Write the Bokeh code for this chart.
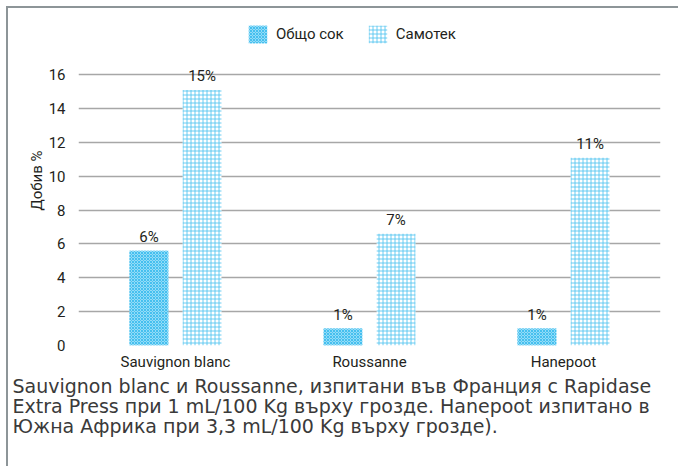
from bokeh.plotting import figure
from bokeh.models import (ColumnDataSource, FactorRange, Range1d, FixedTicker,
                          Legend, LegendItem, Title)
from bokeh.transform import dodge
from bokeh.core.properties import value
from bokeh.embed import file_html
from bokeh.resources import INLINE

categories = ["Sauvignon blanc", "Roussanne", "Hanepoot"]
total_juice = [5.6, 1.0, 1.0]        # Общо сок
free_run = [15.1, 6.6, 11.1]         # Самотек
total_labels = ["6%", "1%", "1%"]
free_labels = ["15%", "7%", "11%"]
y_ticks = [0, 2, 4, 6, 8, 10, 12, 14, 16]
series_names = ["Общо сок", "Самотек"]
y_title = "Добив %"
caption_lines = [
    "Sauvignon blanc и Roussanne, изпитани във Франция с Rapidase",
    "Extra Press при 1 mL/100 Kg върху грозде. Hanepoot изпитано в",
    "Южна Африка при 3,3 mL/100 Kg върху грозде).",
]

COND = "Roboto"
CAP = "DejaVu Sans"
TXT = "#231f20"
GRID = "#a7a7a7"
FS = "15px"

src = ColumnDataSource(dict(cat=categories, total=total_juice, free=free_run,
                            tl=total_labels, fl=free_labels))

p = figure(x_range=FactorRange(*categories), y_range=Range1d(0, 19.5),
           width=672, height=460, output_backend="svg", toolbar_location=None,
           min_border_left=70, min_border_right=20, min_border_top=7,
           min_border_bottom=123)
p.outline_line_color = None
p.styles = {"border-top": "2px solid #8d9598", "border-left": "2px solid #8d9598",
            "margin-top": "6px", "margin-left": "6px"}

r1 = p.vbar(x=dodge("cat", -0.137, range=p.x_range), top="total", width=0.2,
            source=src, fill_color="#93dcf7", line_color=None,
            hatch_pattern="diagonal_cross", hatch_color="#45bfef",
            hatch_scale=3, hatch_weight=1)
r2 = p.vbar(x=dodge("cat", 0.137, range=p.x_range), top="free", width=0.2,
            source=src, fill_color="white", line_color=None,
            hatch_pattern="cross", hatch_color="#4fc3f0", hatch_alpha=0.85,
            hatch_scale=4, hatch_weight=1)

p.text(x=dodge("cat", -0.137, range=p.x_range), y="total", text="tl", source=src,
       text_align="center", text_baseline="bottom", y_offset=-5,
       text_font=value(COND), text_font_size=FS, text_color=TXT)
p.text(x=dodge("cat", 0.137, range=p.x_range), y="free", text="fl", source=src,
       text_align="center", text_baseline="bottom", y_offset=-5,
       text_font=value(COND), text_font_size=FS, text_color=TXT)

p.xgrid.grid_line_color = None
p.ygrid.grid_line_color = GRID
p.ygrid.grid_line_width = 1.5
p.yaxis.ticker = FixedTicker(ticks=y_ticks)
p.ygrid.ticker = FixedTicker(ticks=y_ticks)
p.yaxis.bounds = (0, 16)

for ax in (p.xaxis[0], p.yaxis[0]):
    ax.axis_line_color = None
    ax.major_tick_line_color = None
    ax.minor_tick_line_color = None
    ax.major_tick_out = 0
    ax.minor_tick_out = 0
    ax.major_label_text_font = COND
    ax.major_label_text_font_size = FS
    ax.major_label_text_color = TXT
p.xaxis.major_label_standoff = 7
p.yaxis.major_label_standoff = 13
p.yaxis.axis_label = y_title
p.yaxis.axis_label_text_font = COND
p.yaxis.axis_label_text_font_size = FS
p.yaxis.axis_label_text_font_style = "normal"
p.yaxis.axis_label_text_color = TXT
p.yaxis.axis_label_standoff = 0

legend = Legend(items=[LegendItem(label=series_names[0], renderers=[r1]),
                       LegendItem(label=series_names[1], renderers=[r2])],
                location=(168, 300), orientation="horizontal",
                glyph_width=23, glyph_height=22, label_standoff=7, spacing=22,
                padding=0, margin=0, border_line_color=None,
                background_fill_alpha=0, label_text_font=COND,
                label_text_font_size=FS, label_text_color=TXT,
                label_height=22)
p.add_layout(legend, "center")

p.add_layout(Title(text="\n".join(caption_lines), align="left", offset=-66,
                   standoff=0, text_font=CAP,
                   text_font_size="19px", text_line_height=0.92,
                   text_font_style="normal", text_color="#3a3a3a"), "below")

open("out.html", "w").write(file_html(p, INLINE))
